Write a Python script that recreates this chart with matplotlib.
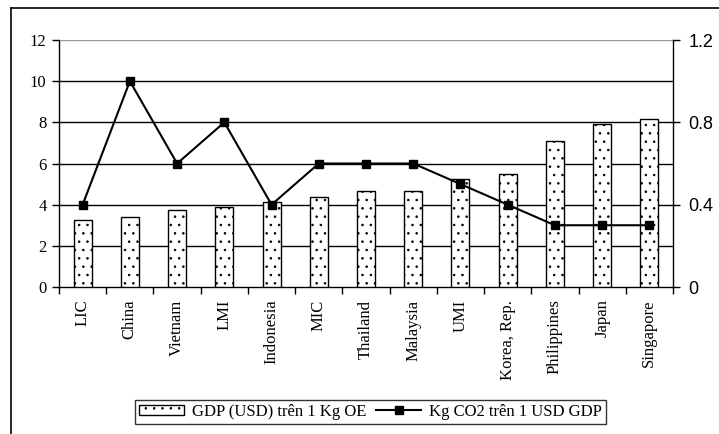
import matplotlib
matplotlib.use("Agg")
import matplotlib.pyplot as plt
from matplotlib.lines import Line2D
import numpy as np

categories = ["LIC", "China", "Vietnam", "LMI", "Indonesia", "MIC", "Thailand",
              "Malaysia", "UMI", "Korea, Rep.", "Philippines", "Japan", "Singapore"]
gdp_per_kgoe = [3.25, 3.38, 3.74, 3.89, 4.13, 4.39, 4.68, 4.68, 5.23, 5.5, 7.1, 7.92, 8.16]
co2_per_usd = [0.4, 1.0, 0.6, 0.8, 0.4, 0.6, 0.6, 0.6, 0.5, 0.4, 0.3, 0.3, 0.3]
left_ticks = [0, 2, 4, 6, 8, 10, 12]
right_ticks = [0, 0.4, 0.8, 1.2]

serif = "Liberation Serif"
sans = "Liberation Sans"
plt.rcParams["hatch.linewidth"] = 0.6

fig = plt.figure(figsize=(7.19, 4.34), dpi=100)
ax = fig.add_axes([0.0821, 0.3387, 0.8539, 0.5691])
ax2 = ax.twinx()

x = np.arange(len(categories))
bars = ax.bar(x, gdp_per_kgoe, width=0.38, color="white", edgecolor="black",
              linewidth=1.0, hatch="..", zorder=3, label="GDP (USD) trên 1 Kg OE")
line, = ax2.plot(x, co2_per_usd, color="black", lw=1.5, marker="s", markersize=6.3,
                 label="Kg CO2 trên 1 USD GDP", zorder=4)

ax.set_xlim(-0.5, len(categories) - 0.5)
ax.set_ylim(0, 12)
ax2.set_ylim(0, 1.2)

for v in left_ticks[1:]:
    ax.axhline(v, color="black" if v < 12 else "#9a9a9a", lw=1.0, zorder=1)

ax.set_yticks(left_ticks)
ax.set_yticklabels([str(t) for t in left_ticks], fontfamily=serif, fontsize=12)
ax2.set_yticks(right_ticks)
ax2.set_yticklabels(["0", "0.4", "0.8", "1.2"], fontfamily=sans, fontsize=13)

# category labels at bar centres, tick marks at category boundaries
ax.set_xticks(x)
ax.set_xticklabels(categories, rotation=90, fontfamily=serif, fontsize=12)
ax.tick_params(axis="x", which="major", length=0, pad=9)
ax.set_xticks(np.arange(len(categories) + 1) - 0.5, minor=True)
ax.tick_params(axis="x", which="minor", length=5, width=1, color="black")
ax.tick_params(axis="y", length=5, width=1, pad=4)
ax2.tick_params(axis="y", length=5, width=1, pad=6)

for a in (ax, ax2):
    a.spines["top"].set_visible(False)
    for s in ("left", "right", "bottom"):
        a.spines[s].set_linewidth(1.0)
ax.spines["right"].set_visible(False)
ax2.spines["left"].set_visible(False)
ax2.spines["bottom"].set_visible(False)

leg = fig.legend(handles=[bars, line], loc="center", bbox_to_anchor=(0.515, 0.0507),
                 ncol=2, frameon=True, fancybox=False, edgecolor="black",
                 prop={"family": serif, "size": 12}, handlelength=2.7,
                 handletextpad=0.45, columnspacing=0.6, borderpad=0.25,
                 handleheight=0.6)
leg.get_frame().set_linewidth(1.0)

# outer frame lines
fig.add_artist(Line2D([0.0153, 0.0153], [0.0, 0.9816], transform=fig.transFigure,
                      color="black", lw=1.2))
fig.add_artist(Line2D([0.0153, 1.0], [0.9816, 0.9816], transform=fig.transFigure,
                      color="black", lw=1.2))

fig.savefig("out.png", dpi=100)
